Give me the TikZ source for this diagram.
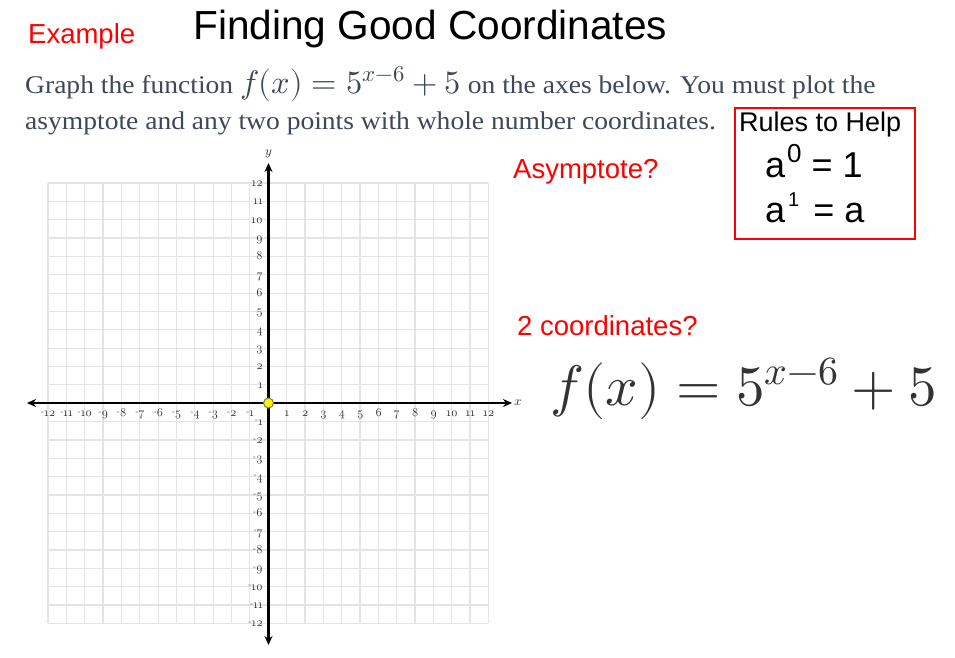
\documentclass[tikz,border=0pt]{standalone}
\usepackage{fontspec}
\usepackage{unicode-math}
\setmathfont{Latin Modern Math}
\usetikzlibrary{arrows.meta}
\newfontfamily\arial{Liberation Sans}
\newfontfamily\georgia[FakeStretch=1.08]{Liberation Serif}
\newfontfamily\osf[Numbers=OldStyle]{Latin Modern Roman}
\definecolor{bodytxt}{RGB}{62,72,88}
\definecolor{labtxt}{RGB}{40,45,60}
\definecolor{gridc}{RGB}{228,228,228}
\newcommand\negsign{\raisebox{0.45ex}{\scalebox{0.75}{-}}}
\tikzset{
  redlabel/.style={red, font=\arial\fontsize{27.5}{30}\selectfont, anchor=base west, inner sep=0},
  bodyline/.style={bodytxt, font=\georgia\fontsize{25.5}{28}\selectfont, anchor=base west, inner sep=0},
  ruletext/.style={black, font=\arial\fontsize{27}{30}\selectfont, anchor=base west, inner sep=0},
  rulebig/.style={black, font=\arial\fontsize{36}{40}\selectfont, anchor=base west, inner sep=0},
  ticklab/.style={labtxt, font=\osf\fontsize{12}{13}\selectfont, inner sep=0},
  gridline/.style={gridc, line width=1.2pt},
  axisline/.style={black, line width=2.4pt, {Stealth[length=9pt,width=8pt]}-{Stealth[length=9pt,width=8pt]}},
}
\begin{document}
\begin{tikzpicture}[x=1pt,y=-1pt]
\useasboundingbox (0,0) rectangle (955,657);
\fill[white] (0,0) rectangle (955,657);

\node[redlabel] (ex) at (28,43) {Example};
\node[font=\arial\fontsize{40.6}{44}\selectfont, anchor=base west, inner sep=0] (title) at (193,39) {Finding Good Coordinates};

\node[bodyline] (l1) at (25,93) {Graph the function {\fontsize{32.5}{33}\selectfont$f(x)=5^{x-6}+5$} on the axes below. You must plot the};
\node[bodyline] (l2) at (25,129) {asymptote and any two points with whole number coordinates.};

\node[draw=red, line width=2pt, minimum width=180pt, minimum height=131pt, anchor=north west, inner sep=0] (rules) at (734,107) {};
\node[ruletext] (rh) at (739,131) {Rules to Help};
\node[rulebig] (r1) at (765,177) {a\hspace{2pt}\raisebox{15pt}{\fontsize{26}{26}\selectfont 0} = 1};
\node[rulebig] (r2) at (765,222) {a\hspace{3pt}\raisebox{16pt}{\fontsize{20}{20}\selectfont 1}\hspace{4pt} = a};

\node[redlabel] (asy) at (513,178) {Asymptote?};
\node[redlabel] (coord) at (517,335) {2 coordinates?};

\node[black!80, font=\fontsize{57}{60}\selectfont, anchor=base west, inner sep=0] (fx) at (550,405) {$f(x)=5^{x-6}+5$};

\foreach \i in {0,...,24} {
  \draw[gridline] ({48+\i*18.35},183) -- ({48+\i*18.35},623.4);
  \draw[gridline] (48,{183+\i*18.35}) -- (488.4,{183+\i*18.35});
}
\begin{scope}[shift={(268.5,403)}, x=18.35pt, y=18.35pt]
  \coordinate (xl) at (-13.16,0);
  \coordinate (xr) at (13.27,0);
  \coordinate (yb) at (0,-13.19);
  \coordinate (yt) at (0,13.08);
  \draw[axisline] (xl) -- (xr);
  \draw[axisline] (yb) -- (yt);
  \foreach \k in {1,...,12} {
    \node[ticklab, anchor=base] (xp\k) at (\k,-0.76) {\k};
    \node[ticklab, anchor=base] (xn\k) at (-\k,-0.76) {\negsign\k};
    \node[ticklab, anchor=base east] (yp\k) at (-0.3,\k-0.2) {\k};
    \node[ticklab, anchor=base east] (yn\k) at (-0.3,-\k-0.2) {\negsign\k};
  }
  \node[labtxt, font=\fontsize{13}{14}\selectfont, inner sep=0] (ylab) at (0,13.55) {$y$};
  \node[labtxt, font=\fontsize{13}{14}\selectfont, inner sep=0] (xlab) at (13.62,0) {$x$};
  \node[circle, fill=yellow, draw=black!60!yellow, line width=1pt, minimum size=10pt, inner sep=0] (o) at (0,0) {};
\end{scope}
\end{tikzpicture}
\end{document}
